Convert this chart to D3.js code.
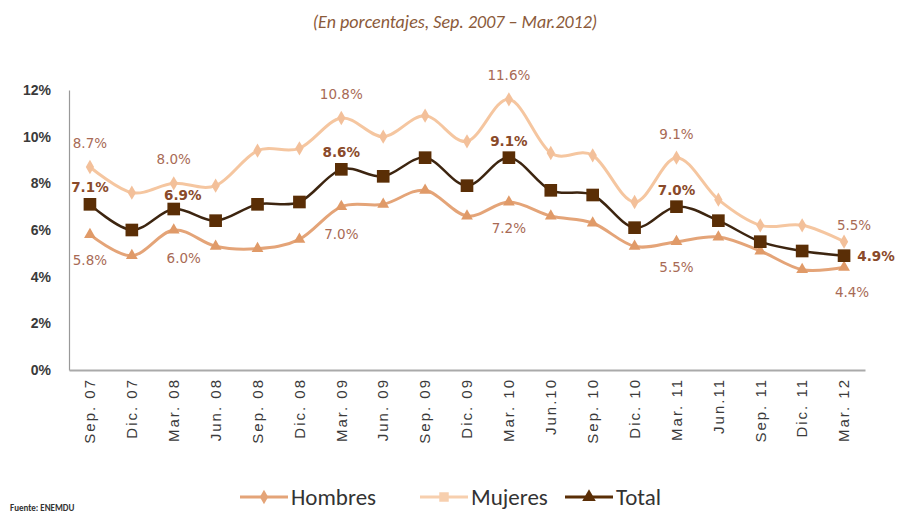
<!DOCTYPE html>
<html lang="es">
<head>
<meta charset="UTF-8">
<title>Desempleo</title>
<script src="https://cdnjs.cloudflare.com/ajax/libs/d3/7.8.5/d3.min.js"></script>
<style>
  body { margin: 0; background: #fff; }
  svg { display: block; font-family: Carlito, Calibri, "Liberation Sans Narrow", "Open Sans", sans-serif; }
  .ytick text { font-weight: bold; fill: #3a3a3a; font-size: 14px; }
  .xtick text { fill: #3a3a3a; font-size: 15px; letter-spacing: 2px; }
  .lbl { font-size: 13.5px; font-family: "DejaVu Sans", Verdana, sans-serif; }
</style>
</head>
<body>
<svg width="897" height="515"></svg>
<script>
var categories = ["Sep. 07","Dic. 07","Mar. 08","Jun. 08","Sep. 08","Dic. 08","Mar. 09","Jun. 09","Sep. 09","Dic. 09",
                  "Mar. 10","Jun.10","Sep. 10","Dic. 10","Mar. 11","Jun.11","Sep. 11","Dic. 11","Mar. 12"];
var hombres = [5.8, 4.9, 6.0, 5.3, 5.2, 5.6, 7.0, 7.1, 7.7, 6.6, 7.2, 6.6, 6.3, 5.3, 5.5, 5.7, 5.1, 4.3, 4.4];
var mujeres = [8.7, 7.6, 8.0, 7.9, 9.4, 9.5, 10.8, 10.0, 10.9, 9.8, 11.6, 9.3, 9.2, 7.2, 9.1, 7.3, 6.2, 6.2, 5.5];
var total   = [7.1, 6.0, 6.9, 6.4, 7.1, 7.2, 8.6, 8.3, 9.1, 7.9, 9.1, 7.7, 7.5, 6.1, 7.0, 6.4, 5.5, 5.1, 4.9];
var yTicks  = [0, 2, 4, 6, 8, 10, 12];
// indices of points that carry a value label
var labelsHombres = [0, 2, 6, 10, 14, 18];
var labelsMujeres = [0, 2, 6, 10, 14, 18];
var labelsTotal   = [0, 2, 6, 10, 14, 18];

var svg = d3.select("svg");
var mLeft = 69, mRight = 865, mTop = 90, mBottom = 370;

var x = d3.scaleBand().domain(categories).range([mLeft, mRight]);
var y = d3.scaleLinear().domain([0, 12]).range([mBottom, mTop]);
var cx = function(i) { return x(categories[i]) + x.bandwidth() / 2; };

// title
svg.append("text")
  .attr("x", 455).attr("y", 28)
  .attr("text-anchor", "middle")
  .attr("font-style", "italic")
  .attr("font-size", 18)
  .attr("fill", "#8b5a3a")
  .text("(En porcentajes, Sep. 2007 \u2013 Mar.2012)");

// y axis
var yAxis = svg.append("g").attr("class", "ytick")
  .attr("transform", "translate(" + mLeft + ",0)")
  .call(d3.axisLeft(y).tickValues(yTicks).tickSize(0).tickPadding(18).tickFormat(function(d) { return d + "%"; }));
yAxis.select(".domain").attr("stroke", "#999").attr("stroke-width", 1.2);

// x axis
var xAxis = svg.append("g").attr("class", "xtick")
  .attr("transform", "translate(0," + mBottom + ")")
  .call(d3.axisBottom(x).tickSize(0));
xAxis.select(".domain").attr("stroke", "#aaa").attr("stroke-width", 2);
xAxis.selectAll("text")
  .attr("transform", "rotate(-90)")
  .attr("text-anchor", "end")
  .attr("x", -8).attr("y", 0).attr("dy", "0.35em");

var line = d3.line()
  .x(function(d, i) { return cx(i); })
  .y(function(d) { return y(d); })
  .curve(d3.curveCatmullRom.alpha(0));

var series = [
  { name: "Mujeres", values: mujeres, color: "#f5c6a0", width: 3, marker: d3.symbolDiamond, size: 60, fill: "#f3c09a" },
  { name: "Hombres", values: hombres, color: "#e4a478", width: 3, marker: d3.symbolTriangle, size: 60, fill: "#e09a68" },
  { name: "Total",   values: total,   color: "#3d2510", width: 2.5, marker: d3.symbolSquare, size: 160, fill: "#5a2e06" }
];

series.forEach(function(s) {
  svg.append("path")
    .datum(s.values)
    .attr("fill", "none")
    .attr("stroke", s.color)
    .attr("stroke-width", s.width)
    .attr("d", line);
  svg.selectAll(null)
    .data(s.values)
    .enter().append("path")
    .attr("transform", function(d, i) { return "translate(" + cx(i) + "," + y(d) + ")"; })
    .attr("d", d3.symbol().type(s.marker).size(s.size))
    .attr("fill", s.fill);
});

function fmt(v) { return v.toFixed(1) + "%"; }

// value labels
function addLabels(idx, vals, dx, dy, color, weight) {
  svg.selectAll(null)
    .data(idx)
    .enter().append("text")
    .attr("class", "lbl")
    .attr("x", function(i) { return cx(i) + dx(i); })
    .attr("y", function(i) { return y(vals[i]) + dy(i); })
    .attr("text-anchor", "middle")
    .attr("fill", color)
    .attr("font-weight", weight)
    .text(function(i) { return fmt(vals[i]); });
}
addLabels(labelsMujeres, mujeres, function(i) { return i === 18 ? 10 : 0; }, function(i) { return i === 18 ? -12 : -19; }, "#a86a55", "normal");
addLabels(labelsHombres, hombres, function(i) { return i === 2 ? 10 : (i === 18 ? 8 : 0); }, function(i) { return i === 6 ? 32 : (i === 10 ? 31 : (i === 2 ? 33 : 30)); }, "#a86a55", "normal");
addLabels(labelsTotal, total, function(i) { return i === 18 ? 32 : (i === 2 ? 9 : 0); }, function(i) { return i === 18 ? 5 : (i === 2 ? -9 : -12); }, "#8a4a2a", "bold");

// legend
var legend = [
  { name: "Hombres", x: 240, color: "#e4a478", marker: d3.symbolDiamond, size: 60 },
  { name: "Mujeres", x: 420, color: "#f7cfae", marker: d3.symbolSquare, size: 90 },
  { name: "Total",   x: 565, color: "#5a2e06", marker: d3.symbolTriangle, size: 80 }
];
var lg = svg.append("g").attr("transform", "translate(0,497)");
legend.forEach(function(l) {
  lg.append("line").attr("x1", l.x).attr("x2", l.x + 48).attr("y1", 0).attr("y2", 0)
    .attr("stroke", l.color).attr("stroke-width", 3);
  lg.append("path").attr("transform", "translate(" + (l.x + 24) + ",0)")
    .attr("d", d3.symbol().type(l.marker).size(l.size)).attr("fill", l.color);
  lg.append("text").attr("x", l.x + 51).attr("y", 8)
    .attr("font-size", 23).attr("fill", "#333").text(l.name);
});

svg.append("text").attr("x", 10).attr("y", 511)
  .attr("font-size", 9).attr("font-weight", "bold").attr("fill", "#333")
  .text("Fuente: ENEMDU");
</script>
</body>
</html>
